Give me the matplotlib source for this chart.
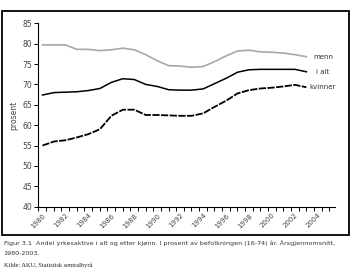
import numpy as np
import matplotlib
matplotlib.use('Agg')
import matplotlib.pyplot as plt
from matplotlib.patches import Rectangle

# Data
years = list(range(1980, 2004))
menn = [79.7, 79.7, 79.7, 78.6, 78.6, 78.3, 78.5, 78.9, 78.5, 77.3, 75.8, 74.6,
        74.5, 74.2, 74.4, 75.6, 77.0, 78.2, 78.4, 78.0, 77.9, 77.7, 77.3, 76.8]
i_alt = [67.4, 68.0, 68.1, 68.2, 68.5, 69.0, 70.5, 71.4, 71.2, 70.0, 69.5, 68.7,
         68.6, 68.6, 68.9, 70.2, 71.5, 73.0, 73.6, 73.7, 73.7, 73.7, 73.7, 73.1]
kvinner = [55.0, 56.0, 56.3, 57.0, 57.8, 59.0, 62.3, 63.8, 63.8, 62.5, 62.5, 62.4,
           62.3, 62.3, 62.9, 64.5, 66.0, 67.8, 68.6, 69.0, 69.2, 69.5, 69.9, 69.3]
xlabels = [str(y) for y in range(1980, 2005, 2)]

fig = plt.figure(figsize=(3.58, 2.76), dpi=100)
ax = fig.add_axes([0.1075, 0.2511, 0.8285, 0.6645])

ax.plot(years, menn, color='#a8a8a8', lw=1.2)
ax.plot(years, i_alt, color='black', lw=1.1)
ax.plot(years, kvinner, color='black', lw=1.3, dashes=(4, 0.8))

ax.text(2003.6, menn[-1], 'menn', fontsize=5, color='#333333', va='center')
ax.text(2003.8, i_alt[-1], 'i alt', fontsize=5, color='#333333', va='center')
ax.text(2003.3, kvinner[-1], 'kvinner', fontsize=5, color='#333333', va='center')

ax.set_xlim(1979.65, 2005.5)
ax.set_ylim(40, 85)
ax.set_yticks(range(40, 86, 5))
ax.set_xticks(range(1980, 2005, 2))
ax.set_xticklabels(xlabels, rotation=45, ha='right', rotation_mode='anchor')
ax.set_xticks(np.arange(1979.65, 2005.6, 2 / 3), minor=True)
ax.tick_params(axis='x', which='major', length=0, pad=4, labelsize=5, labelcolor='#444444')
ax.tick_params(axis='x', which='minor', length=3, width=0.7)
ax.tick_params(axis='y', length=3, width=0.7, pad=1.5, labelsize=5.5, labelcolor='#444444')
ax.set_ylabel('prosent', fontsize=5.5, color='#444444', labelpad=3)
for s in ['top', 'right']:
    ax.spines[s].set_visible(False)
for s in ['left', 'bottom']:
    ax.spines[s].set_linewidth(0.8)

# outer frame
fig.patches.append(Rectangle((0.0056, 0.150), 0.969, 0.810, transform=fig.transFigure,
                             fill=False, edgecolor='black', lw=1.3))

plt.figtext(0.01, 0.118, 'Figur 3.1  Andel yrkesaktive i alt og etter kjønn. I prosent av befolkningen (16-74) år. Årsgjennomsnitt,',
            fontsize=4.6, color='#333333', va='center')
plt.figtext(0.01, 0.083, '1980-2003.', fontsize=4.6, color='#333333', va='center')
plt.figtext(0.01, 0.040, 'Kilde: AKU, Statistisk sentralbyrå', fontsize=4.6, family='Liberation Serif',
            color='#222222', va='center')

fig.savefig('out.png', dpi=100)
